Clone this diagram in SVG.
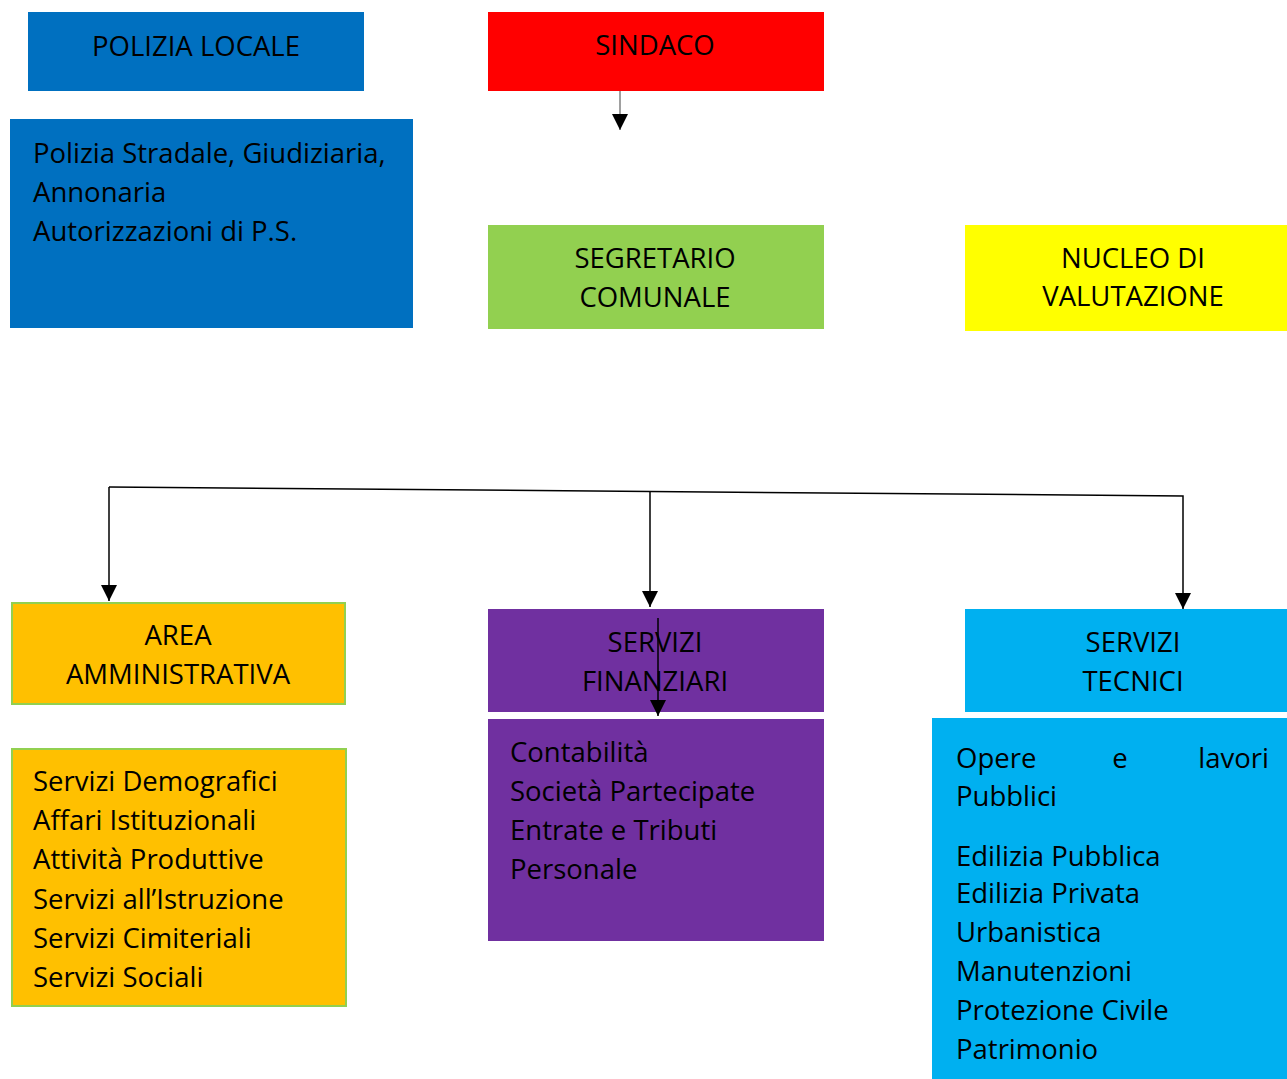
<svg xmlns="http://www.w3.org/2000/svg" width="1287" height="1079" viewBox="0 0 1287 1079">
<style>
text{font-family:"Open Sans","Noto Sans","Liberation Sans",sans-serif;font-size:27.5px;fill:#000;dominant-baseline:central}
.c{text-anchor:middle}
.ln{stroke:#000;stroke-width:1.5;fill:none}
</style>
<defs>
<marker id="ah" viewBox="0 0 10 10" refX="10" refY="5" markerWidth="16" markerHeight="16" markerUnits="userSpaceOnUse" orient="auto">
<path d="M0,0 L10,5 L0,10 z" fill="#000"/>
</marker>
</defs>
<rect width="1287" height="1079" fill="#fff"/>
<g id="polizia-locale">
<rect x="28" y="12" width="336" height="79" fill="#0070C0"/>
<text class="c" x="196" y="45">POLIZIA LOCALE</text>
</g>
<g id="polizia-compiti">
<rect x="10" y="119" width="403" height="209" fill="#0070C0"/>
<text x="33" y="152">Polizia Stradale, Giudiziaria,</text>
<text x="33" y="191">Annonaria</text>
<text x="33" y="230">Autorizzazioni di P.S.</text>
</g>
<g id="sindaco">
<rect x="488" y="12" width="336" height="79" fill="#FF0000"/>
<text class="c" x="655" y="44">SINDACO</text>
</g>
<g id="segretario">
<rect x="488" y="225" width="336" height="104" fill="#92D050"/>
<text class="c" x="655" y="257">SEGRETARIO</text>
<text class="c" x="655" y="296">COMUNALE</text>
</g>
<g id="nucleo">
<rect x="965" y="225" width="322" height="106" fill="#FFFF00"/>
<text class="c" x="1133" y="257">NUCLEO DI</text>
<text class="c" x="1133" y="295">VALUTAZIONE</text>
</g>
<g id="area-amm">
<rect x="12" y="603" width="333" height="101" fill="#FFC000" stroke="#92D050" stroke-width="2"/>
<text class="c" x="178" y="634">AREA</text>
<text class="c" x="178" y="673">AMMINISTRATIVA</text>
</g>
<g id="area-amm-servizi">
<rect x="12" y="749" width="334" height="257" fill="#FFC000" stroke="#92D050" stroke-width="2"/>
<text x="33" y="780">Servizi Demografici</text>
<text x="33" y="819">Affari Istituzionali</text>
<text x="33" y="858">Attività Produttive</text>
<text x="33" y="898">Servizi all’Istruzione</text>
<text x="33" y="937">Servizi Cimiteriali</text>
<text x="33" y="976">Servizi Sociali</text>
</g>
<g id="servizi-fin">
<rect x="488" y="609" width="336" height="103" fill="#7030A0"/>
<text class="c" x="655" y="641">SERVIZI</text>
<text class="c" x="655" y="680">FINANZIARI</text>
</g>
<g id="servizi-fin-list">
<rect x="488" y="719" width="336" height="222" fill="#7030A0"/>
<text x="510" y="751">Contabilità</text>
<text x="510" y="790">Società Partecipate</text>
<text x="510" y="829">Entrate e Tributi</text>
<text x="510" y="868">Personale</text>
</g>
<g id="servizi-tec">
<rect x="965" y="609" width="322" height="103" fill="#00B0F0"/>
<text class="c" x="1133" y="641">SERVIZI</text>
<text class="c" x="1133" y="680">TECNICI</text>
</g>
<g id="servizi-tec-list">
<rect x="932" y="718" width="355" height="361" fill="#00B0F0"/>
<text x="956" y="757">Opere</text>
<text class="c" x="1120" y="757">e</text>
<text x="1269" y="757" text-anchor="end">lavori</text>
<text x="956" y="795">Pubblici</text>
<text x="956" y="855">Edilizia Pubblica</text>
<text x="956" y="892">Edilizia Privata</text>
<text x="956" y="931">Urbanistica</text>
<text x="956" y="970">Manutenzioni</text>
<text x="956" y="1009">Protezione Civile</text>
<text x="956" y="1048">Patrimonio</text>
</g>
<g id="connectors">
<line x1="620" y1="91" x2="620" y2="130" stroke="#808080" stroke-width="1.5" marker-end="url(#ah)"/>
<polyline class="ln" points="109,487 1183,496 1183,609" marker-end="url(#ah)"/>
<line class="ln" x1="109" y1="487" x2="109" y2="601" marker-end="url(#ah)"/>
<line class="ln" x1="650" y1="492" x2="650" y2="607" marker-end="url(#ah)"/>
<line class="ln" x1="658" y1="618" x2="658" y2="716" marker-end="url(#ah)"/>
</g>
</svg>
